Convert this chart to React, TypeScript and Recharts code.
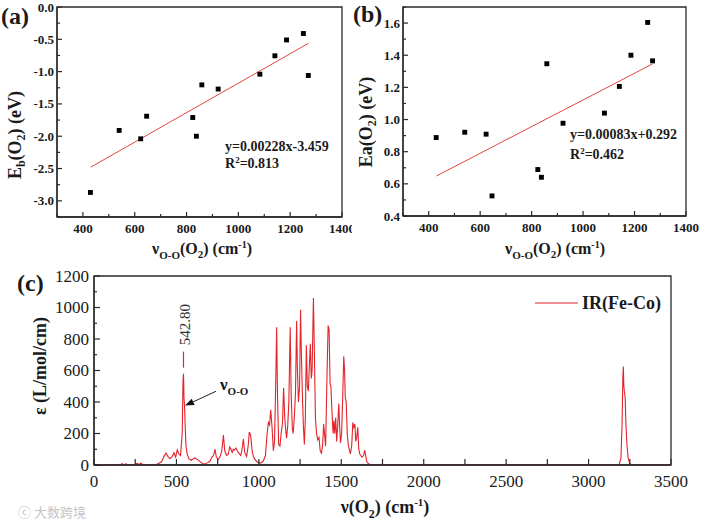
import React from 'react';
import {
  ComposedChart,
  LineChart,
  Line,
  Scatter,
  XAxis,
  YAxis,
  ZAxis,
  ReferenceLine,
  ReferenceArea,
  ReferenceDot,
} from 'recharts';

const SERIF = '"Liberation Serif", "Times New Roman", serif';
const AXIS = '#2a2a2a';
const TXT = '#1a1a1a';
const RED = '#e3242b';
const FIT = '#e0463f';

// ---------- Panel (a) ----------
const nuA = [429, 540, 623, 646, 824, 838, 859, 922, 1083, 1141, 1186, 1251, 1270];
const ebA = [-2.87, -1.91, -2.04, -1.69, -1.71, -2.0, -1.205, -1.27, -1.04, -0.755, -0.51, -0.41, -1.06];
const fitAx = [430, 1270];
const fitAy = [-2.479, -0.563];
const ticksAX = [300, 400, 500, 600, 700, 800, 900, 1000, 1100, 1200, 1300, 1400];
const majorAX = [400, 600, 800, 1000, 1200, 1400];
const ticksAY = [-3.25, -3, -2.75, -2.5, -2.25, -2, -1.75, -1.5, -1.25, -1, -0.75, -0.5, -0.25, 0];
const majorAY = [-3, -2.5, -2, -1.5, -1, -0.5, 0];

// ---------- Panel (b) ----------
const nuB = [429, 540, 623, 646, 824, 838, 859, 922, 1083, 1141, 1186, 1251, 1270];
const eaB = [0.888, 0.921, 0.909, 0.525, 0.689, 0.641, 1.347, 0.977, 1.04, 1.206, 1.4, 1.604, 1.365];
const fitBx = [430, 1270];
const fitBy = [0.649, 1.346];
const ticksBX = ticksAX;
const majorBX = majorAX;
const ticksBY = [0.4, 0.5, 0.6, 0.7, 0.8, 0.9, 1.0, 1.1, 1.2, 1.3, 1.4, 1.5, 1.6, 1.7];
const majorBY = [0.4, 0.6, 0.8, 1.0, 1.2, 1.4, 1.6];

// ---------- Panel (c) ----------
const specX = [
  0, 150, 162, 170, 178, 195, 205, 240, 262, 272, 285, 296, 320, 380, 410, 425, 437, 448, 461, 475,
  485, 495, 505, 515, 525, 535, 540, 543, 546, 549, 553, 558, 565, 575, 590, 610, 623, 640, 655, 670,
  690, 704, 715, 725, 734, 742, 754, 765, 775, 785, 793, 805, 815, 823, 829, 838, 845, 853, 861, 870,
  879, 890, 898, 906, 914, 926, 935, 942, 950, 958, 966, 980, 996, 1010, 1027, 1040, 1050, 1058, 1065, 1072,
  1080, 1088, 1095, 1102, 1108, 1113, 1120, 1128, 1135, 1143, 1150, 1157, 1163, 1168, 1175, 1182, 1190, 1196, 1203, 1208,
  1215, 1222, 1229, 1234, 1240, 1247, 1253, 1258, 1264, 1270, 1276, 1282, 1288, 1294, 1300, 1306, 1312, 1318, 1323, 1331,
  1337, 1343, 1350, 1357, 1365, 1372, 1380, 1387, 1393, 1398, 1405, 1412, 1420, 1426, 1432, 1437, 1443, 1450, 1455, 1460,
  1466, 1472, 1478, 1485, 1490, 1495, 1502, 1509, 1515, 1520, 1524, 1530, 1536, 1542, 1548, 1555, 1563, 1570, 1576, 1582,
  1588, 1594, 1600, 1606, 1612, 1618, 1625, 1635, 1642, 1648, 1655, 1665, 1680, 3150, 3185, 3196, 3203, 3208, 3211, 3214,
  3218, 3222, 3226, 3232, 3240, 3250, 3265, 3500,
];
const specY = [
  0, 0, 0, 9, 2, 8, 1, 1, 11, 3, 12, 2, 0, 3, 20, 55, 75, 55, 40, 55,
  78, 50, 96, 70, 60, 200, 540, 580, 420, 380, 250, 120, 70, 40, 30, 45, 38, 25, 12, 5,
  15, 25, 50, 60, 100, 50, 35, 55, 90, 190, 90, 60, 70, 115, 105, 80, 100, 95, 108, 90,
  75, 60, 100, 165, 80, 55, 120, 210, 190, 100, 55, 30, 15, 12, 25, 60, 200, 270, 255, 350,
  240, 90, 150, 500, 875, 450, 130, 120, 200, 260, 490, 300, 220, 170, 250, 400, 875, 450, 230, 200,
  300, 450, 915, 600, 400, 500, 985, 700, 450, 250, 130, 300, 760, 500, 470, 620, 770, 550, 600, 1060,
  700, 300, 200, 160, 175, 90, 75, 130, 260, 200, 120, 500, 885, 860, 520, 500, 350, 200, 280, 200,
  300, 150, 250, 390, 250, 140, 200, 450, 690, 600, 430, 400, 200, 130, 100, 70, 120, 270, 240, 260,
  150, 180, 240, 100, 70, 60, 50, 60, 95, 60, 20, 8, 0, 0, 3, 40, 250, 560, 625, 500,
  460, 430, 280, 140, 45, 10, 0, 0,
];
const ticksCX = [0, 250, 500, 750, 1000, 1250, 1500, 1750, 2000, 2250, 2500, 2750, 3000, 3250, 3500];
const majorCX = [0, 500, 1000, 1500, 2000, 2500, 3000, 3500];
const ticksCY = [0, 100, 200, 300, 400, 500, 600, 700, 800, 900, 1000, 1100, 1200];
const majorCY = [0, 200, 400, 600, 800, 1000, 1200];
const peakX = 542.8;
const peakY = 580;
const peakLabel = '542.80';
const arrowTail = { x: 740, y: 468 };
const arrowHead = { x: 552, y: 377 };

const pointsA = nuA.map((x, i) => ({ x, y: ebA[i] }));
const pointsB = nuB.map((x, i) => ({ x, y: eaB[i] }));
const spectrum = specX.map((x, i) => ({ x, y: specY[i] }));

type TickOpts = {
  majors: number[];
  fmt: (v: number) => string;
  len: number;
  minor: number;
  gap: number;
  fs: number;
  fw: number | string;
};

const isMajor = (v: number, majors: number[]) => majors.some((m) => Math.abs(m - v) < 1e-6);

const bottomTick = (o: TickOpts) => (p: any) => {
  const v = p.payload.value;
  const mj = isMajor(v, o.majors);
  return (
    <g>
      <line x1={p.x} x2={p.x} y1={p.y} y2={p.y - (mj ? o.len : o.minor)} stroke={AXIS} strokeWidth={1.2} />
      {mj && (
        <text x={p.x} y={p.y + o.gap} dy="0.72em" textAnchor="middle" fontFamily={SERIF} fontSize={o.fs} fontWeight={o.fw} fill={TXT}>
          {o.fmt(v)}
        </text>
      )}
    </g>
  );
};

const leftTick = (o: TickOpts) => (p: any) => {
  const v = p.payload.value;
  const mj = isMajor(v, o.majors);
  return (
    <g>
      <line x1={p.x} x2={p.x + (mj ? o.len : o.minor)} y1={p.y} y2={p.y} stroke={AXIS} strokeWidth={1.2} />
      {mj && (
        <text x={p.x - o.gap} y={p.y} dy="0.35em" textAnchor="end" fontFamily={SERIF} fontSize={o.fs} fontWeight={o.fw} fill={TXT}>
          {o.fmt(v)}
        </text>
      )}
    </g>
  );
};

const f1 = (v: number) => v.toFixed(1);
const f0 = (v: number) => String(Math.round(v));

const PeakMark = (p: any) => {
  const { cx, cy } = p;
  return (
    <g>
      <line x1={cx} x2={cx} y1={cy - 6} y2={cy - 22} stroke={RED} strokeWidth={1.2} />
      <text
        x={cx + 1}
        y={cy - 49}
        transform={`rotate(-90, ${cx + 1}, ${cy - 49})`}
        textAnchor="middle"
        dy="0.35em"
        fontFamily={SERIF}
        fontSize={15}
        fill="#333"
      >
        {peakLabel}
      </text>
    </g>
  );
};

const ArrowShape = (p: any) => {
  const { x1, y1, x2, y2 } = p;
  const ang = Math.atan2(y2 - y1, x2 - x1);
  const L = 9;
  const W = 3.5;
  const bx = x2 - L * Math.cos(ang);
  const by = y2 - L * Math.sin(ang);
  const px = -Math.sin(ang) * W;
  const py = Math.cos(ang) * W;
  return (
    <g>
      <line x1={x1} y1={y1} x2={bx} y2={by} stroke="#222" strokeWidth={1} />
      <polygon points={`${x2},${y2} ${bx + px},${by + py} ${bx - px},${by - py}`} fill="#111" />
      <text x={x1 + 4} y={y1 - 1} fontFamily={SERIF} fontSize={17} fontWeight="bold" fill={TXT}>
        ν<tspan dy={5} fontSize={11}>O-O</tspan>
      </text>
    </g>
  );
};

const PanelA = () => (
  <ComposedChart width={352} height={260} data={pointsA} margin={{ top: 7, right: 10, bottom: 0, left: 0 }}>
    <XAxis
      type="number"
      dataKey="x"
      domain={[300, 1400]}
      ticks={ticksAX}
      interval={0}
      allowDataOverflow
      height={43}
      tickSize={0}
      tickMargin={0}
      tickLine={false}
      axisLine={{ stroke: AXIS, strokeWidth: 1.3 }}
      tick={bottomTick({ majors: majorAX, fmt: f0, len: 5, minor: 3, gap: 7, fs: 13, fw: 'bold' })}
    />
    <YAxis
      type="number"
      dataKey="y"
      domain={[-3.25, 0]}
      ticks={ticksAY}
      interval={0}
      allowDataOverflow
      width={57}
      tickSize={0}
      tickMargin={0}
      tickLine={false}
      axisLine={{ stroke: AXIS, strokeWidth: 1.3 }}
      tick={leftTick({ majors: majorAY, fmt: f1, len: 5, minor: 3, gap: 3, fs: 13, fw: 'bold' })}
    />
    <ZAxis range={[24, 24]} />
    <ReferenceArea x1={300} x2={1400} y1={-3.25} y2={0} fill="none" stroke={AXIS} strokeWidth={1.3} ifOverflow="visible" />
    <ReferenceLine
      segment={[
        { x: fitAx[0], y: fitAy[0] },
        { x: fitAx[1], y: fitAy[1] },
      ]}
      stroke={FIT}
      strokeWidth={1}
      ifOverflow="visible"
    />
    <Scatter data={pointsA} dataKey="y" fill="#000" shape="square" isAnimationActive={false} />
  </ComposedChart>
);

const PanelB = () => (
  <ComposedChart width={349} height={260} data={pointsB} margin={{ top: 7, right: 15, bottom: 0, left: 0 }}>
    <XAxis
      type="number"
      dataKey="x"
      domain={[300, 1400]}
      ticks={ticksBX}
      interval={0}
      allowDataOverflow
      height={44}
      tickSize={0}
      tickMargin={0}
      tickLine={false}
      axisLine={{ stroke: AXIS, strokeWidth: 1.3 }}
      tick={bottomTick({ majors: majorBX, fmt: f0, len: 5, minor: 3, gap: 7, fs: 13, fw: 'bold' })}
    />
    <YAxis
      type="number"
      dataKey="y"
      domain={[0.4, 1.7]}
      ticks={ticksBY}
      interval={0}
      allowDataOverflow
      width={51}
      tickSize={0}
      tickMargin={0}
      tickLine={false}
      axisLine={{ stroke: AXIS, strokeWidth: 1.3 }}
      tick={leftTick({ majors: majorBY, fmt: f1, len: 5, minor: 3, gap: 3, fs: 13, fw: 'bold' })}
    />
    <ZAxis range={[24, 24]} />
    <ReferenceArea x1={300} x2={1400} y1={0.4} y2={1.7} fill="none" stroke={AXIS} strokeWidth={1.3} ifOverflow="visible" />
    <ReferenceLine
      segment={[
        { x: fitBx[0], y: fitBy[0] },
        { x: fitBx[1], y: fitBy[1] },
      ]}
      stroke={FIT}
      strokeWidth={1}
      ifOverflow="visible"
    />
    <Scatter data={pointsB} dataKey="y" fill="#000" shape="square" isAnimationActive={false} />
  </ComposedChart>
);

const PanelC = () => (
  <LineChart width={701} height={265} data={spectrum} margin={{ top: 16, right: 30, bottom: 0, left: 0 }}>
    <XAxis
      type="number"
      dataKey="x"
      domain={[0, 3500]}
      ticks={ticksCX}
      interval={0}
      allowDataOverflow
      height={60}
      tickSize={0}
      tickMargin={0}
      tickLine={false}
      axisLine={{ stroke: AXIS, strokeWidth: 1.3 }}
      tick={bottomTick({ majors: majorCX, fmt: f0, len: 6, minor: 6, gap: 10, fs: 17, fw: 'normal' })}
    />
    <YAxis
      type="number"
      domain={[0, 1200]}
      ticks={ticksCY}
      interval={0}
      allowDataOverflow
      width={94}
      tickSize={0}
      tickMargin={0}
      tickLine={false}
      axisLine={{ stroke: AXIS, strokeWidth: 1.3 }}
      tick={leftTick({ majors: majorCY, fmt: f0, len: 6, minor: 3, gap: 5, fs: 17, fw: 'normal' })}
    />
    <ReferenceArea x1={0} x2={3500} y1={0} y2={1200} fill="none" stroke={AXIS} strokeWidth={1.3} ifOverflow="visible" />
    <Line type="linear" dataKey="y" stroke={RED} strokeWidth={1.1} dot={false} isAnimationActive={false} />
    <ReferenceDot x={peakX} y={peakY} r={2} ifOverflow="visible" shape={(p: any) => <PeakMark {...p} />} />
    <ReferenceLine segment={[arrowTail, arrowHead]} ifOverflow="visible" shape={(p: any) => <ArrowShape {...p} />} />
  </LineChart>
);

export default function App() {
  const T = { fontFamily: SERIF, fontWeight: 'bold' as const, fill: TXT };
  return (
    <div style={{ position: 'absolute', left: 0, top: 0, width: 701, height: 525, background: '#fff', overflow: 'hidden' }}>
      <div style={{ position: 'absolute', left: 0, top: 0 }}>
        <PanelA />
      </div>
      <div style={{ position: 'absolute', left: 352, top: 0 }}>
        <PanelB />
      </div>
      <div style={{ position: 'absolute', left: 0, top: 260 }}>
        <PanelC />
      </div>
      <svg width={701} height={525} style={{ position: 'absolute', left: 0, top: 0, pointerEvents: 'none' }}>
        {/* panel letters */}
        <text x={1} y={24} fontSize={24} {...T}>(a)</text>
        <text x={353} y={22} fontSize={24} {...T}>(b)</text>
        <text x={17} y={291} fontSize={24} {...T}>(c)</text>

        {/* panel (a) titles */}
        <text x={15} y={135} transform="rotate(-90, 15, 135)" textAnchor="middle" dy="0.35em" fontSize={18} {...T}>
          E<tspan dy={4} fontSize={12}>b</tspan>
          <tspan dy={-4}>(O</tspan>
          <tspan dy={4} fontSize={12}>2</tspan>
          <tspan dy={-4}>) (eV)</tspan>
        </text>
        <text x={202} y={254} textAnchor="middle" fontSize={16} {...T}>
          ν<tspan dy={5} fontSize={11}>O-O</tspan>
          <tspan dy={-5}>(O</tspan>
          <tspan dy={4} fontSize={11}>2</tspan>
          <tspan dy={-4}>) (cm</tspan>
          <tspan dy={-6} fontSize={10}>-1</tspan>
          <tspan dy={6}>)</tspan>
        </text>
        <text x={225} y={151} fontSize={14} {...T}>y=0.00228x-3.459</text>
        <text x={225} y={168} fontSize={14} {...T}>
          R<tspan dy={-5} fontSize={9}>2</tspan>
          <tspan dy={5}>=0.813</tspan>
        </text>

        {/* panel (b) titles */}
        <text x={366} y={122} transform="rotate(-90, 366, 122)" textAnchor="middle" dy="0.35em" fontSize={18} {...T}>
          Ea(O<tspan dy={4} fontSize={12}>2</tspan>
          <tspan dy={-4}>) (eV)</tspan>
        </text>
        <text x={555} y={254} textAnchor="middle" fontSize={16} {...T}>
          ν<tspan dy={5} fontSize={11}>O-O</tspan>
          <tspan dy={-5}>(O</tspan>
          <tspan dy={4} fontSize={11}>2</tspan>
          <tspan dy={-4}>) (cm</tspan>
          <tspan dy={-6} fontSize={10}>-1</tspan>
          <tspan dy={6}>)</tspan>
        </text>
        <text x={570} y={139} fontSize={14} {...T}>y=0.00083x+0.292</text>
        <text x={570} y={159} fontSize={14} {...T}>
          R<tspan dy={-5} fontSize={9}>2</tspan>
          <tspan dy={5}>=0.462</tspan>
        </text>

        {/* panel (c) titles */}
        <text x={40} y={366} transform="rotate(-90, 40, 366)" textAnchor="middle" dy="0.35em" fontSize={18} {...T}>
          ε (L/mol/cm)
        </text>
        <text x={385} y={513} textAnchor="middle" fontSize={18} {...T}>
          ν(O<tspan dy={5} fontSize={12}>2</tspan>
          <tspan dy={-5}>) (cm</tspan>
          <tspan dy={-7} fontSize={11}>-1</tspan>
          <tspan dy={7}>)</tspan>
        </text>

        {/* legend (c) */}
        <line x1={535} x2={578} y1={303} y2={303} stroke={RED} strokeWidth={1.2} />
        <text x={582} y={303} dy="0.35em" fontSize={18} {...T}>IR(Fe-Co)</text>

        {/* watermark */}
        <text x={18} y={517} fontFamily='"Noto Sans CJK SC", sans-serif' fontSize={13} fill="#c4c4c4">
          ⓒ 大数跨境
        </text>
      </svg>
    </div>
  );
}
